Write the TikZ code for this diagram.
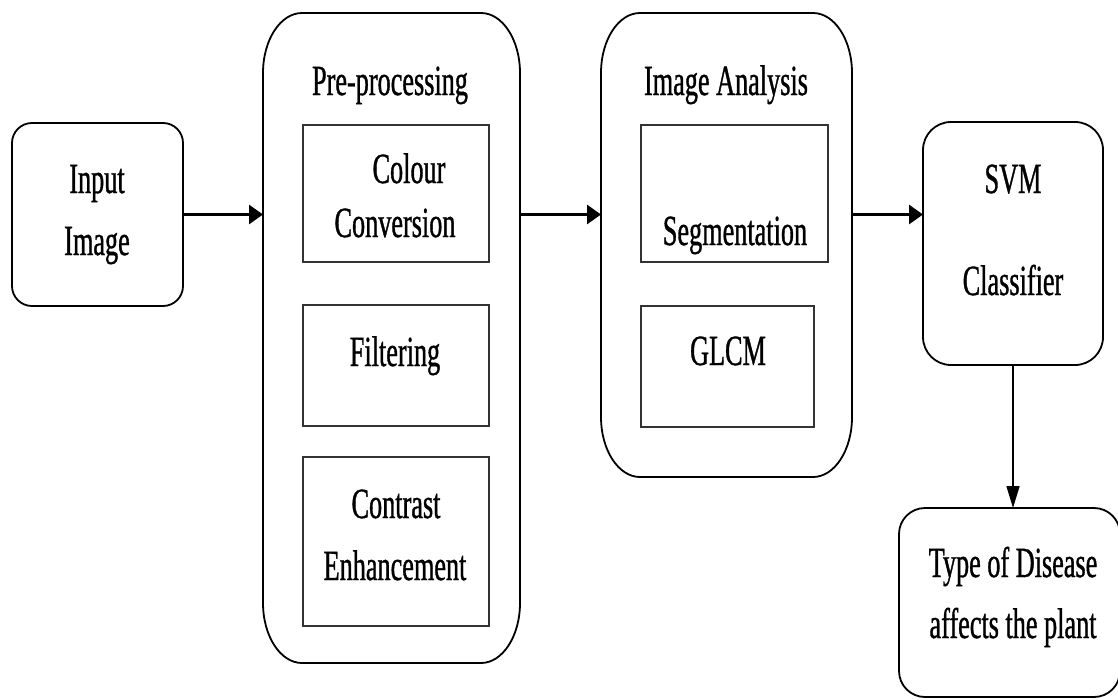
\documentclass[tikz,border=0pt]{standalone}
\usepackage{fontspec}
\setmainfont{Liberation Serif}[FakeStretch=0.61,FakeBold=0.8]
\usetikzlibrary{arrows.meta}
\newcommand\ellbox[3]{\draw[boxline] ([xshift=#2]#1.north west) -- ([xshift=-#2]#1.north east)
  arc[start angle=90,end angle=0,x radius=#2,y radius=#3] -- ([yshift=#3]#1.south east)
  arc[start angle=0,end angle=-90,x radius=#2,y radius=#3] -- ([xshift=#2]#1.south west)
  arc[start angle=270,end angle=180,x radius=#2,y radius=#3] -- ([yshift=-#3]#1.north west)
  arc[start angle=180,end angle=90,x radius=#2,y radius=#3] -- cycle;}
\tikzset{
  boxline/.style={line width=1.8pt, black},
  rbox/.style={draw, boxline, rounded corners=#1, inner sep=0pt, outer sep=0pt},
  sbox/.style={draw, line width=1.8pt, draw=black!80, inner sep=0pt, outer sep=0pt},
  obox/.style={draw=none, inner sep=0pt, outer sep=0pt},
  lbl/.style={anchor=base, inner sep=0pt, font=\fontsize{43}{50}\selectfont},
  harrow/.style={line width=3pt, -{Triangle[length=14pt,width=19pt]}},
  varrow/.style={line width=1.5pt, -{Triangle[length=22pt,width=13pt]}},
}
\begin{document}
\begin{tikzpicture}[x=1pt,y=-1pt]
\useasboundingbox (0,0) rectangle (1118,699);
% boxes
\node[rbox=20pt, minimum width=171pt, minimum height=183pt] (input) at (97.5,214.5) {};
\node[obox, minimum width=257pt, minimum height=650pt] (pre) at (391.5,338) {};
\node[obox, minimum width=251pt, minimum height=464pt] (ia) at (726.5,245) {};
\ellbox{pre}{39pt}{60pt}
\ellbox{ia}{39pt}{60pt}
\node[sbox, minimum width=186pt, minimum height=137pt] (colour) at (396,193.5) {};
\node[sbox, minimum width=186pt, minimum height=121pt] (filter) at (396,365.5) {};
\node[sbox, minimum width=186pt, minimum height=169pt] (contrast) at (396,541.5) {};
\node[sbox, minimum width=187pt, minimum height=137pt] (seg) at (734.5,193.5) {};
\node[sbox, minimum width=173pt, minimum height=121pt] (glcm) at (727.5,366.5) {};
\node[rbox=28pt, minimum width=180pt, minimum height=243pt] (svm) at (1013,243.5) {};
\node[rbox=26pt, minimum width=221pt, minimum height=189pt] (type) at (1009.5,602.5) {};
% texts
\node[lbl] (t1a) at (97,193) {Input};
\node[lbl] (t1b) at (97,255) {Image};
\node[lbl] (t2) at (390,95) {Pre-processing};
\node[lbl] (t3a) at (409,183) {Colour};
\node[lbl] (t3b) at (395,237) {Conversion};
\node[lbl] (t4) at (395,366) {Filtering};
\node[lbl] (t5a) at (396,518) {Contrast};
\node[lbl] (t5b) at (395,580) {Enhancement};
\node[lbl] (t6) at (726,95) {Image Analysis};
\node[lbl] (t7) at (735,245) {Segmentation};
\node[lbl] (t8) at (728,365) {GLCM};
\node[lbl] (t9a) at (1013,193) {SVM};
\node[lbl] (t9b) at (1013,295) {Classifier};
\node[lbl] (t10a) at (1013,577) {Type of Disease};
\node[lbl] (t10b) at (1013,638) {affects the plant};
% connectors
\draw[harrow] (input.east) -- (input.east -| pre.west);
\draw[harrow] (input.east -| pre.east) -- (input.east -| ia.west);
\draw[harrow] (input.east -| ia.east) -- (input.east -| svm.west);
\draw[varrow] (svm.south) -- (svm.south |- type.north);
\end{tikzpicture}
\end{document}
